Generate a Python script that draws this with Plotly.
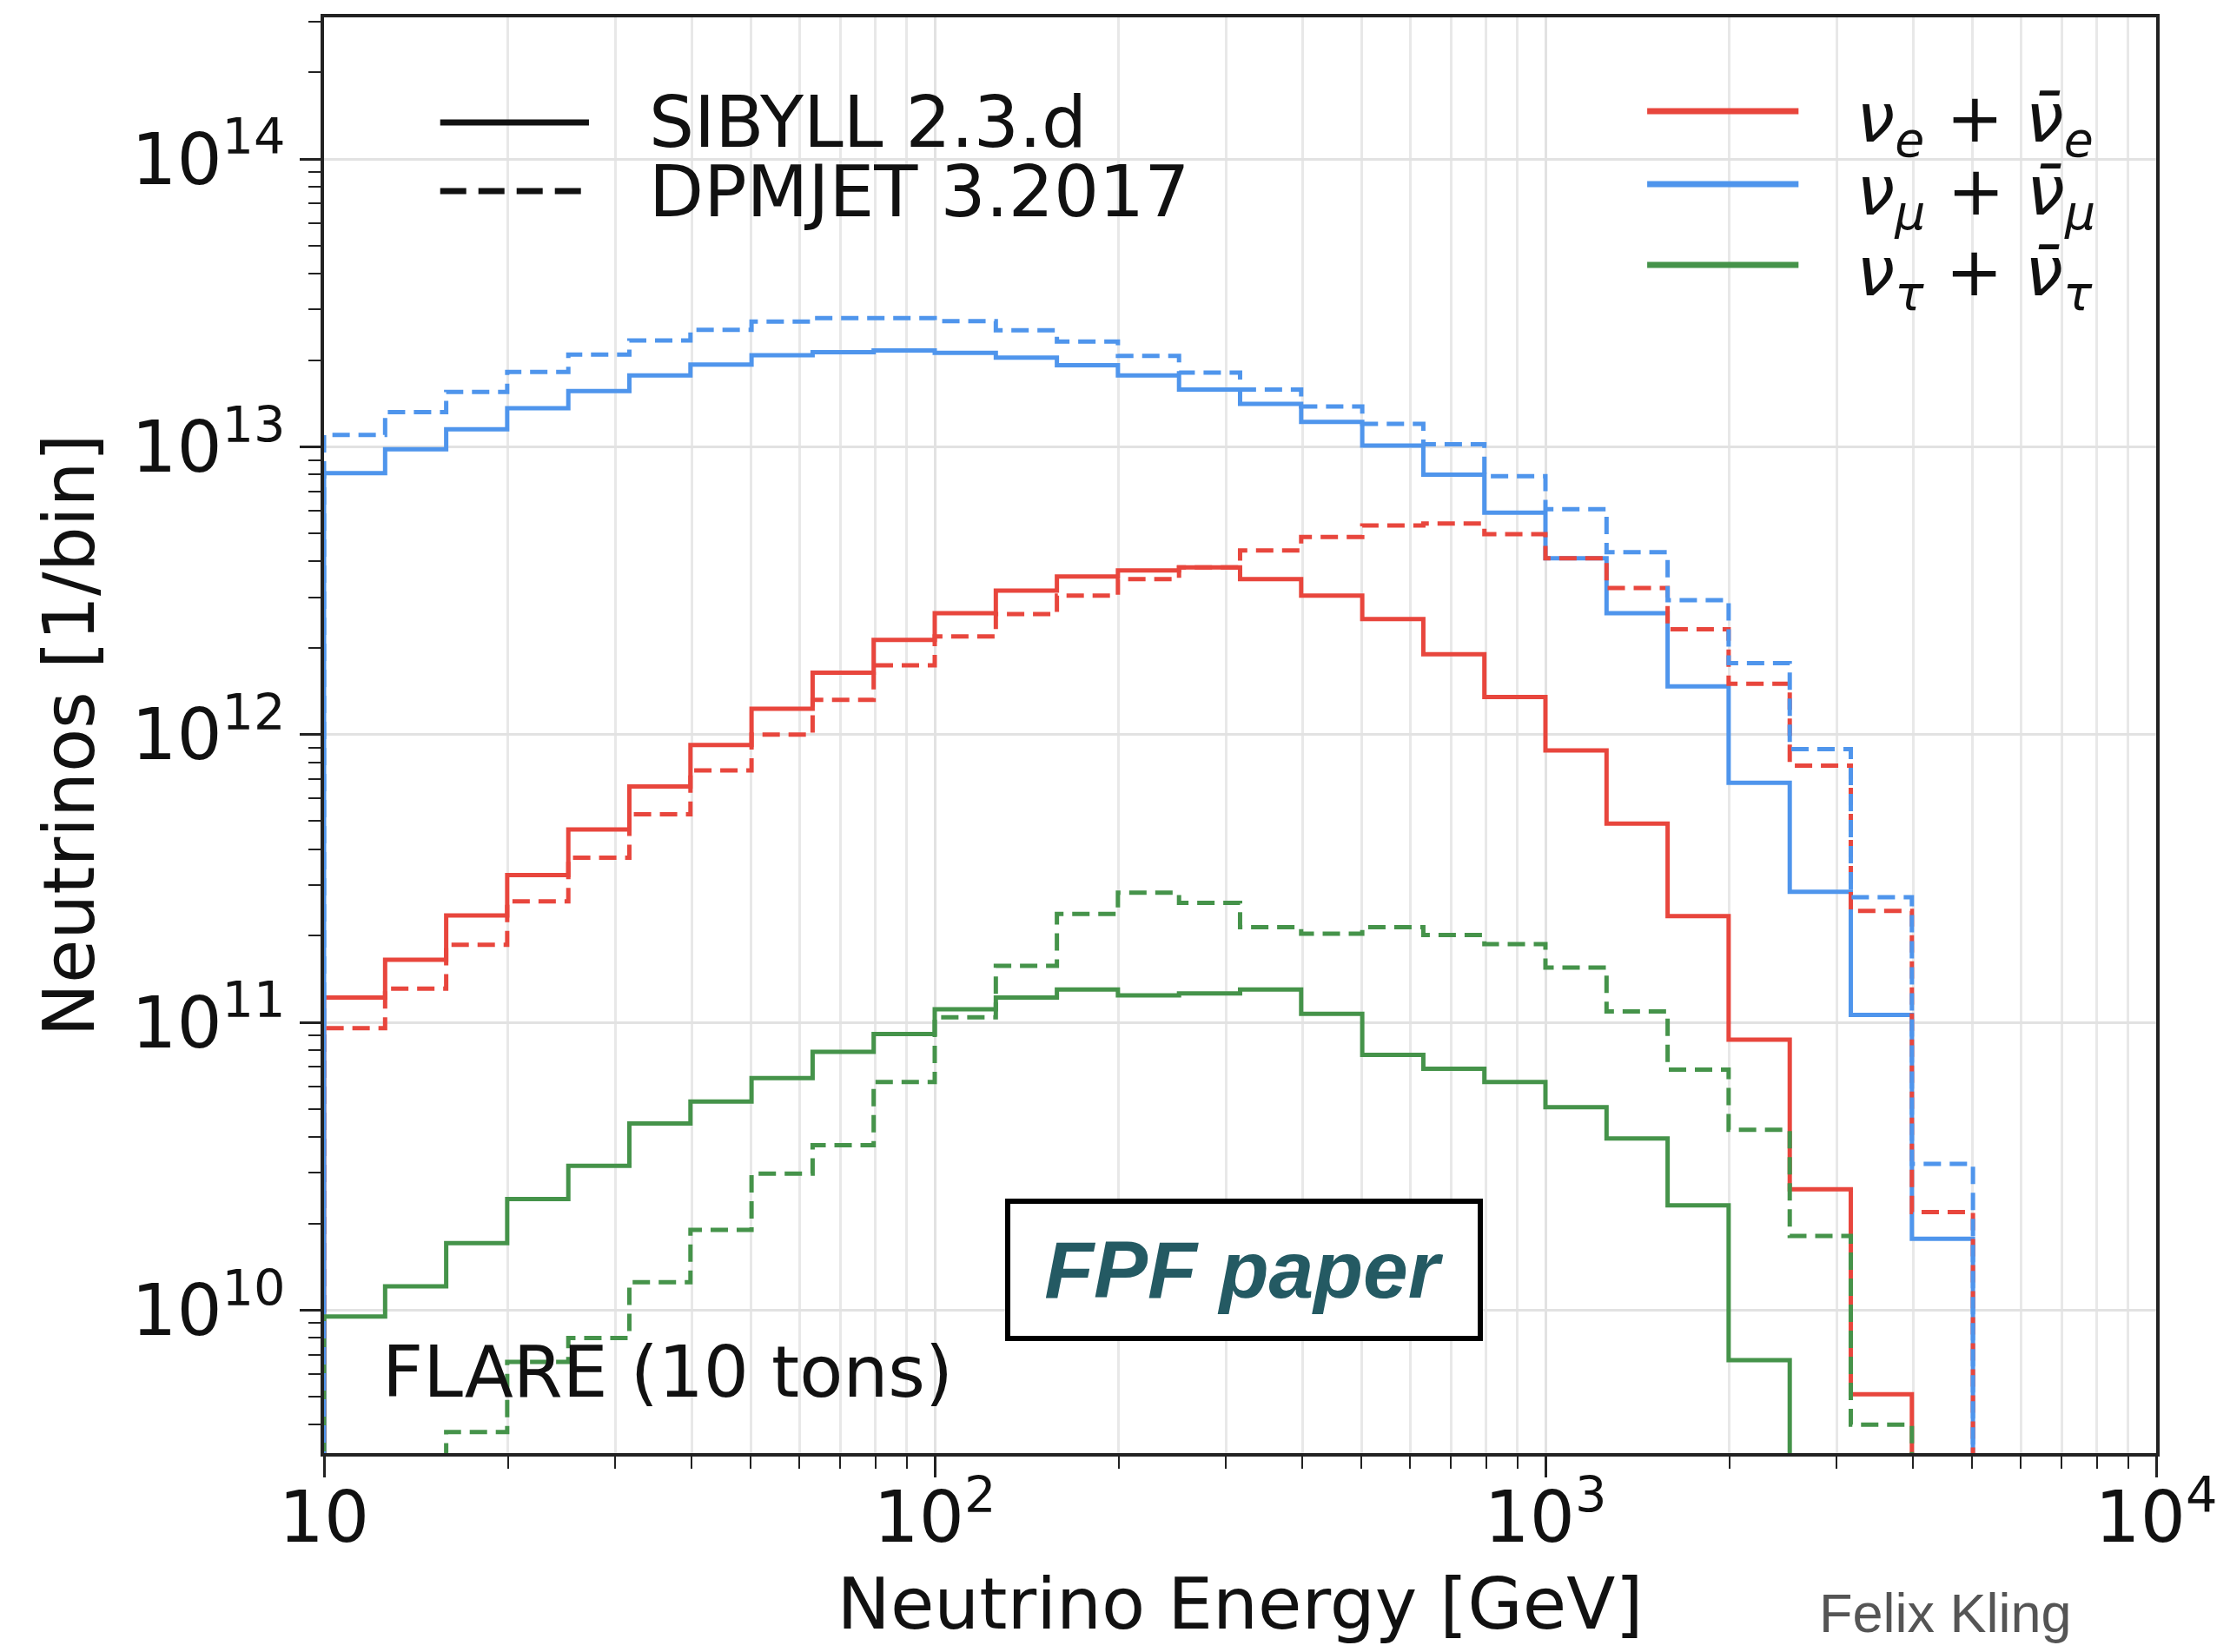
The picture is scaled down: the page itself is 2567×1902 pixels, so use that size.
import plotly.graph_objects as go

# ---------------- data ----------------
bin_edges_gev = [10.0, 12.59, 15.85, 19.95, 25.12, 31.62, 39.81, 50.12, 63.10, 79.43,
                 100.0, 125.9, 158.5, 199.5, 251.2, 316.2, 398.1, 501.2, 631.0, 794.3,
                 1000.0, 1259.0, 1585.0, 1995.0, 2512.0, 3162.0, 3981.0, 5012.0]

numu_sibyll = [8.1e12, 9.8e12, 1.15e13, 1.36e13, 1.56e13, 1.77e13, 1.93e13, 2.08e13, 2.13e13, 2.16e13,
               2.12e13, 2.04e13, 1.92e13, 1.77e13, 1.58e13, 1.41e13, 1.22e13, 1.01e13, 8.0e12, 5.9e12,
               4.1e12, 2.64e12, 1.47e12, 6.8e11, 2.84e11, 1.06e11, 1.77e10]
numu_dpmjet = [1.10e13, 1.32e13, 1.55e13, 1.82e13, 2.09e13, 2.34e13, 2.55e13, 2.72e13, 2.80e13, 2.80e13,
               2.73e13, 2.54e13, 2.32e13, 2.07e13, 1.81e13, 1.58e13, 1.38e13, 1.20e13, 1.02e13, 7.9e12,
               6.07e12, 4.3e12, 2.93e12, 1.77e12, 8.9e11, 2.72e11, 3.22e10]
nue_sibyll = [1.22e11, 1.65e11, 2.35e11, 3.25e11, 4.68e11, 6.6e11, 9.2e11, 1.23e12, 1.64e12, 2.13e12,
              2.64e12, 3.16e12, 3.54e12, 3.72e12, 3.81e12, 3.47e12, 3.04e12, 2.52e12, 1.90e12, 1.35e12,
              8.8e11, 4.9e11, 2.34e11, 8.7e10, 2.63e10, 5.1e9, 1.0e9]
nue_dpmjet = [9.55e10, 1.31e11, 1.86e11, 2.63e11, 3.73e11, 5.28e11, 7.5e11, 1.0e12, 1.32e12, 1.74e12,
              2.19e12, 2.62e12, 3.04e12, 3.47e12, 3.81e12, 4.36e12, 4.86e12, 5.33e12, 5.41e12, 4.97e12,
              4.1e12, 3.23e12, 2.32e12, 1.50e12, 7.8e11, 2.44e11, 2.19e10]
nutau_sibyll = [9.5e9, 1.21e10, 1.71e10, 2.43e10, 3.17e10, 4.45e10, 5.3e10, 6.4e10, 7.9e10, 9.1e10,
                1.11e11, 1.22e11, 1.30e11, 1.24e11, 1.26e11, 1.30e11, 1.07e11, 7.7e10, 6.9e10, 6.2e10,
                5.07e10, 3.95e10, 2.31e10, 6.7e9, 1.0e9, 5.0e8, 2.0e8]
nutau_dpmjet = [1.5e9, 2.4e9, 3.77e9, 6.6e9, 8.0e9, 1.25e10, 1.90e10, 2.98e10, 3.74e10, 6.2e10,
                1.04e11, 1.57e11, 2.38e11, 2.82e11, 2.6e11, 2.14e11, 2.03e11, 2.14e11, 2.01e11, 1.87e11,
                1.55e11, 1.09e11, 6.85e10, 4.23e10, 1.81e10, 4.0e9, 1.0e9]

histogram_floor = 1e8  # step histogram baseline, below the visible range

x_tick_values = [10, 100, 1000, 10000]
x_tick_labels = ["10", "10<sup>2</sup>", "10<sup>3</sup>", "10<sup>4</sup>"]
y_tick_values = [1e10, 1e11, 1e12, 1e13, 1e14]
y_tick_labels = ["10<sup>10</sup>", "10<sup>11</sup>", "10<sup>12</sup>", "10<sup>13</sup>", "10<sup>14</sup>"]
x_minor_values = [k * 10 ** n for n in (1, 2, 3) for k in range(2, 10)]
y_minor_values = [k * 10 ** n for n in (9, 10, 11, 12, 13, 14) for k in range(2, 10)]

RED = "#e8463d"
BLUE = "#4f95ec"
GREEN = "#45934a"

# ---------------- figure ----------------
fig = go.Figure()


def step_trace(values, color, dash):
    xs = [bin_edges_gev[0]] + bin_edges_gev[:-1] + [bin_edges_gev[-1]]
    ys = [histogram_floor] + list(values) + [histogram_floor]
    return go.Scatter(x=xs, y=ys, mode="lines", line=dict(shape="hv", color=color, width=5, dash=dash),
                      showlegend=False, hoverinfo="skip")


for vals, col in ((nue_sibyll, RED), (numu_sibyll, BLUE), (nutau_sibyll, GREEN)):
    fig.add_trace(step_trace(vals, col, "solid"))
for vals, col in ((nue_dpmjet, RED), (numu_dpmjet, BLUE), (nutau_dpmjet, GREEN)):
    fig.add_trace(step_trace(vals, col, "20px,10px"))

AXIS_COLOR = "#222222"
fig.update_layout(
    width=2551, height=1886,
    margin=dict(l=365, r=77, t=12, b=221),
    plot_bgcolor="white", paper_bgcolor="white",
    showlegend=False,
    font=dict(family="DejaVu Sans", size=82, color="#111111"),
)
fig.update_xaxes(
    type="log", range=[1, 4], automargin=False,
    tickmode="array", tickvals=x_tick_values, ticktext=x_tick_labels,
    ticks="outside", ticklen=24, tickwidth=3, tickcolor=AXIS_COLOR, ticklabelstandoff=-24,
    showline=True, linecolor=AXIS_COLOR, linewidth=4, mirror=True,
    showgrid=True, gridcolor="#e2e2e2", gridwidth=3, zeroline=False,
    minor=dict(tickmode="array", tickvals=x_minor_values, ticks="outside", ticklen=14, tickwidth=2,
               tickcolor=AXIS_COLOR, showgrid=True, gridcolor="#e8e8e8", gridwidth=3),
    title=dict(text="Neutrino Energy [GeV]", font=dict(size=82), standoff=38),
)
fig.update_yaxes(
    type="log", range=[9.503, 14.492], automargin=False,
    tickmode="array", tickvals=y_tick_values, ticktext=y_tick_labels,
    ticks="outside", ticklen=24, tickwidth=3, tickcolor=AXIS_COLOR,
    showline=True, linecolor=AXIS_COLOR, linewidth=4, mirror=True,
    showgrid=True, gridcolor="#e2e2e2", gridwidth=3, zeroline=False,
    minor=dict(tickmode="array", tickvals=y_minor_values, ticks="outside", ticklen=14, tickwidth=2,
               tickcolor=AXIS_COLOR, showgrid=False),
    title=dict(text="Neutrinos [1/bin]", font=dict(size=82), standoff=17),
)

# ---------------- legends (drawn as handles + labels in paper space) ----------------
style_rows = [("SIBYLL 2.3.d", "solid", 0.9268), ("DPMJET 3.2017", "30px,14px", 0.8790)]
for label, dash, yp in style_rows:
    fig.add_shape(type="line", xref="paper", yref="paper", x0=0.0634, x1=0.1446, y0=yp, y1=yp,
                  line=dict(color="#111111", width=7, dash=dash))
    fig.add_annotation(xref="paper", yref="paper", x=0.1765, y=yp, xanchor="left", yanchor="middle",
                       text=label, showarrow=False,
                       font=dict(family="DejaVu Sans", size=82, color="#111111"))

flavour_rows = [
    ("<i>\u03bd</i><sub><i>e</i></sub> + <i>\u03bd\u0304</i><sub><i>e</i></sub>", RED, 0.9347),
    ("<i>\u03bd</i><sub><i>\u03bc</i></sub> + <i>\u03bd\u0304</i><sub><i>\u03bc</i></sub>", BLUE, 0.8839),
    ("<i>\u03bd</i><sub><i>\u03c4</i></sub> + <i>\u03bd\u0304</i><sub><i>\u03c4</i></sub>", GREEN, 0.8276),
]
for label, col, yp in flavour_rows:
    fig.add_shape(type="line", xref="paper", yref="paper", x0=0.7222, x1=0.8048, y0=yp, y1=yp,
                  line=dict(color=col, width=7))
    fig.add_annotation(xref="paper", yref="paper", x=0.8354, y=yp - 0.008, xanchor="left", yanchor="middle",
                       text=label, showarrow=False,
                       font=dict(family="DejaVu Sans", size=79, color="#111111"))

fig.add_annotation(xref="paper", yref="paper", x=0.031, y=0.0563, xanchor="left", yanchor="middle",
                   text="FLARE (10 tons)", showarrow=False,
                   font=dict(family="DejaVu Sans", size=82, color="#111111"))

fig.add_annotation(xref="paper", yref="paper", x=0.5022, y=0.1276, xanchor="center", yanchor="middle",
                   text="<b><i>FPF paper</i></b>", showarrow=False, width=538, height=152,
                   bordercolor="#000000", borderwidth=6, borderpad=0, bgcolor="white",
                   font=dict(family="Liberation Sans", size=93, color="#245a63"))

# anchored at its bottom so that the whole text box stays on the page
fig.add_annotation(xref="paper", yref="paper", x=0.8152, y=-0.1336, xanchor="left", yanchor="bottom",
                   text="Felix Kling", showarrow=False,
                   font=dict(family="Liberation Sans", size=63, color="#555555"))

fig.write_html("out.html")
